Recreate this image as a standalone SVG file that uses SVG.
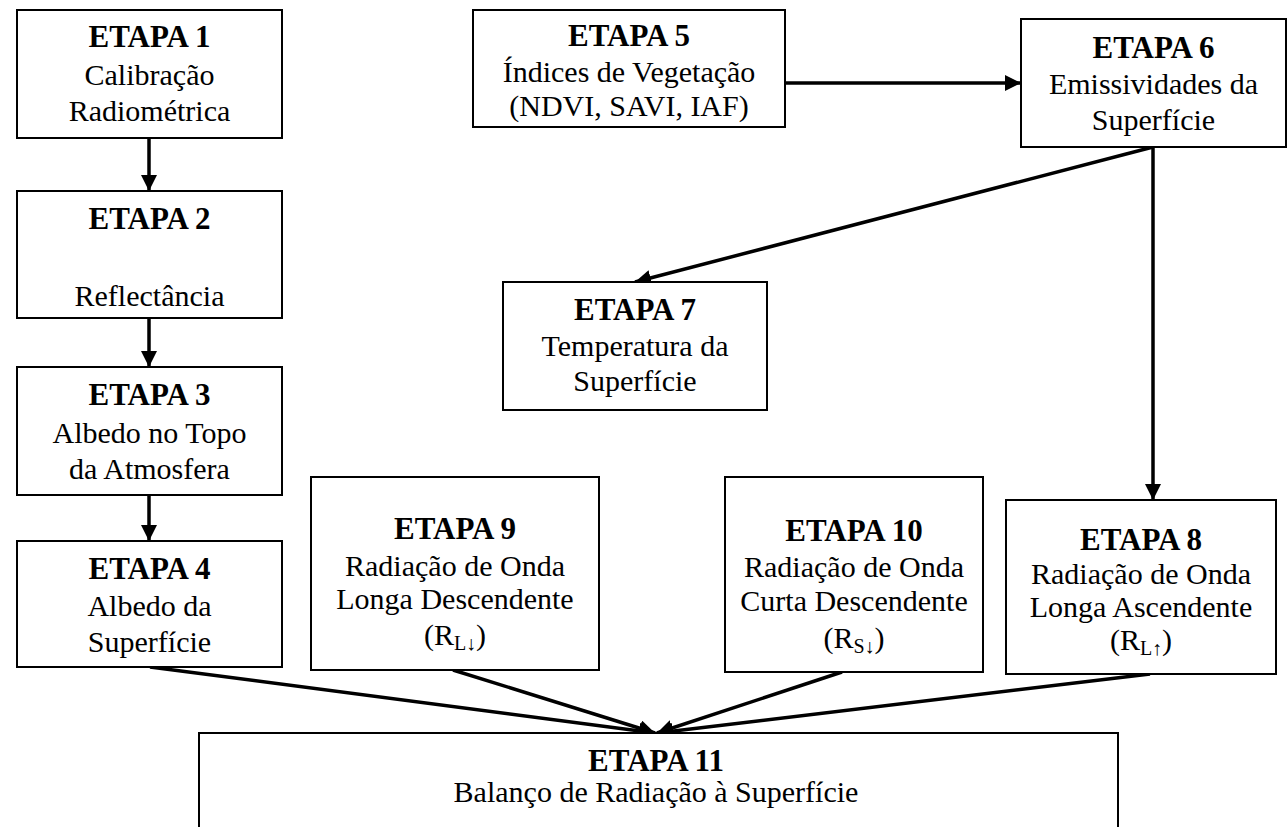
<svg xmlns="http://www.w3.org/2000/svg" width="1288" height="827" viewBox="0 0 1288 827">
<style>
.box{fill:#fff;stroke:#000;stroke-width:2}
.t{font-family:"Liberation Serif","Times New Roman",serif;font-size:30px;fill:#000;text-anchor:middle}
.b{font-weight:bold;font-size:31px}
.c{stroke:#000;stroke-width:3.5;fill:none}
</style>
<defs>
<marker id="ah" viewBox="0 0 10 10" refX="10" refY="5" markerWidth="4.6" markerHeight="4.6" markerUnits="strokeWidth" orient="auto">
<path d="M0,0 L10,5 L0,10 z" fill="#000"/>
</marker>
</defs>
<rect width="1288" height="827" fill="#fff"/>
<g id="connectors">
<line class="c" x1="149" y1="138" x2="149" y2="191" marker-end="url(#ah)"/>
<line class="c" x1="149" y1="318" x2="149" y2="367" marker-end="url(#ah)"/>
<line class="c" x1="149" y1="495" x2="149" y2="541" marker-end="url(#ah)"/>
<line class="c" x1="785" y1="83" x2="1021" y2="83" marker-end="url(#ah)"/>
<line class="c" x1="1153" y1="147" x2="635" y2="282" marker-end="url(#ah)"/>
<line class="c" x1="1153" y1="147" x2="1153" y2="500" marker-end="url(#ah)"/>
<line class="c" x1="150" y1="667" x2="655" y2="733" marker-end="url(#ah)"/>
<line class="c" x1="453" y1="670" x2="655" y2="733" marker-end="url(#ah)"/>
<line class="c" x1="842" y1="672" x2="657" y2="733" marker-end="url(#ah)"/>
<line class="c" x1="1150" y1="674" x2="657" y2="733" marker-end="url(#ah)"/>
</g>
<g id="etapa1">
<rect class="box" x="17" y="10" width="265" height="128"/>
<text class="t b" x="149.5" y="47">ETAPA 1</text>
<text class="t" x="149.5" y="85">Calibração</text>
<text class="t" x="149.5" y="121">Radiométrica</text>
</g>
<g id="etapa2">
<rect class="box" x="17" y="191" width="265" height="127"/>
<text class="t b" x="149.5" y="229">ETAPA 2</text>
<text class="t" x="149.5" y="306">Reflectância</text>
</g>
<g id="etapa3">
<rect class="box" x="17" y="367" width="265" height="128"/>
<text class="t b" x="149.5" y="405">ETAPA 3</text>
<text class="t" x="149.5" y="443">Albedo no Topo</text>
<text class="t" x="149.5" y="479">da Atmosfera</text>
</g>
<g id="etapa4">
<rect class="box" x="17" y="541" width="265" height="126"/>
<text class="t b" x="149.5" y="579">ETAPA 4</text>
<text class="t" x="149.5" y="616">Albedo da</text>
<text class="t" x="149.5" y="652">Superfície</text>
</g>
<g id="etapa5">
<rect class="box" x="473" y="10" width="312" height="117"/>
<text class="t b" x="629" y="46">ETAPA 5</text>
<text class="t" x="629" y="82">Índices de Vegetação</text>
<text class="t" x="629" y="116">(NDVI, SAVI, IAF)</text>
</g>
<g id="etapa6">
<rect class="box" x="1021" y="19" width="265" height="128"/>
<text class="t b" x="1153.5" y="58">ETAPA 6</text>
<text class="t" x="1153.5" y="94">Emissividades da</text>
<text class="t" x="1153.5" y="130">Superfície</text>
</g>
<g id="etapa7">
<rect class="box" x="503" y="282" width="264" height="128"/>
<text class="t b" x="635" y="320">ETAPA 7</text>
<text class="t" x="635" y="356">Temperatura da</text>
<text class="t" x="635" y="391">Superfície</text>
</g>
<g id="etapa9">
<rect class="box" x="311" y="477" width="288" height="193"/>
<text class="t b" x="455" y="539">ETAPA 9</text>
<text class="t" x="455" y="576">Radiação de Onda</text>
<text class="t" x="455" y="609">Longa Descendente</text>
<text class="t" x="455" y="645">(R<tspan font-size="20" dy="5">L↓</tspan><tspan dy="-5">)</tspan></text>
</g>
<g id="etapa10">
<rect class="box" x="725" y="477" width="258" height="195"/>
<text class="t b" x="854" y="541">ETAPA 10</text>
<text class="t" x="854" y="577">Radiação de Onda</text>
<text class="t" x="854" y="611">Curta Descendente</text>
<text class="t" x="854" y="648">(R<tspan font-size="20" dy="5">S↓</tspan><tspan dy="-5">)</tspan></text>
</g>
<g id="etapa8">
<rect class="box" x="1006" y="500" width="270" height="174"/>
<text class="t b" x="1141" y="550">ETAPA 8</text>
<text class="t" x="1141" y="584">Radiação de Onda</text>
<text class="t" x="1141" y="617">Longa Ascendente</text>
<text class="t" x="1141" y="650">(R<tspan font-size="20" dy="5">L↑</tspan><tspan dy="-5">)</tspan></text>
</g>
<g id="etapa11">
<rect class="box" x="199" y="733" width="919" height="110"/>
<text class="t b" x="656" y="771">ETAPA 11</text>
<text class="t" x="656" y="802">Balanço de Radiação à Superfície</text>
</g>
</svg>
